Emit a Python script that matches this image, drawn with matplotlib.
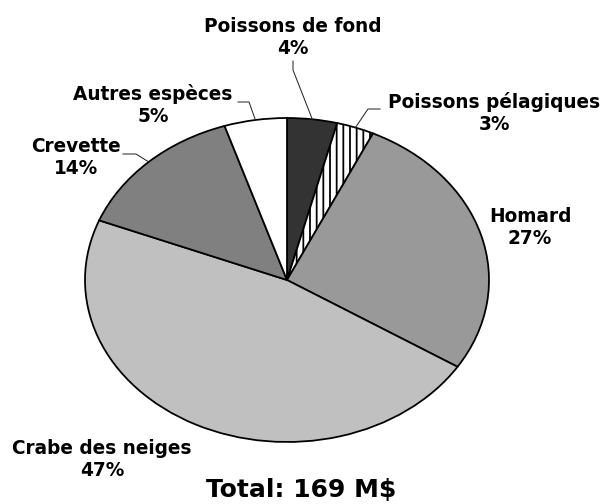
import matplotlib
matplotlib.use('Agg')
import matplotlib.pyplot as plt
import numpy as np

# ---- data ----
categories = ["Poissons de fond", "Poissons pélagiques", "Homard",
              "Crabe des neiges", "Crevette", "Autres espèces"]
percentages = [4, 3, 27, 47, 14, 5]
total_label = "Total: 169 M$"

# ---- styles ----
colors = ['#333333', '#ffffff', '#999999', '#c0c0c0', '#808080', '#ffffff']
hatches = ['', '||', '', '', '', '']

W, H, DPI = 605, 504, 80
plt.rcParams['hatch.linewidth'] = 1.6
plt.rcParams['hatch.color'] = 'black'
fig = plt.figure(figsize=(W / DPI, H / DPI), dpi=DPI)
fig.patch.set_facecolor('white')

# pie ellipse geometry in pixels (origin top-left)
CX, CY, RX, RY = 287, 280, 202, 162
LIM = 1.5
ax = fig.add_axes([(CX - LIM * RX) / W, (H - CY - LIM * RY) / H,
                   2 * LIM * RX / W, 2 * LIM * RY / H])
wedges, _ = ax.pie(percentages, colors=colors, startangle=90, counterclock=False,
                   radius=1, wedgeprops=dict(edgecolor='black', linewidth=1.6))
for w, h in zip(wedges, hatches):
    if h:
        w.set_hatch(h)
ax.set_aspect('auto')
ax.set_xlim(-LIM, LIM)
ax.set_ylim(-LIM, LIM)
ax.axis('off')


def p2d(px, py):
    return ((px - CX) / RX, (CY - py) / RY)


# leader lines: pixel bends, ending at wedge mid-angle on the rim
leaders = {0: [(293, 61), (293, 70)],
           1: [(380, 109), (368, 109)],
           4: [(123, 154), (136, 154)],
           5: [(238, 102), (249, 102)]}
for i, pts in leaders.items():
    w = wedges[i]
    th = np.deg2rad((w.theta1 + w.theta2) / 2)
    xs = [p2d(*p)[0] for p in pts] + [np.cos(th)]
    ys = [p2d(*p)[1] for p in pts] + [np.sin(th)]
    ax.plot(xs, ys, color='#222222', lw=0.9, clip_on=False)

# label positions: (center x, top y) in pixels
label_pos = [(292.5, 16.5), (494, 91.5), (530, 206.5),
             (102, 439.5), (76, 137.5), (153, 84.5)]
for cat, pct, (lx, ly) in zip(categories, percentages, label_pos):
    fig.text(lx / W, 1 - ly / H, f"{cat}\n{pct}%", ha='center', va='top',
             fontsize=16.7, fontweight='bold', family='DejaVu Sans',
             linespacing=1.2, multialignment='center')

fig.text(301.5 / W, 1 - 497 / H, total_label, ha='center', va='baseline',
         fontsize=22.5, fontweight='bold', family='DejaVu Sans')

fig.savefig('out.png', dpi=DPI, facecolor='white')
